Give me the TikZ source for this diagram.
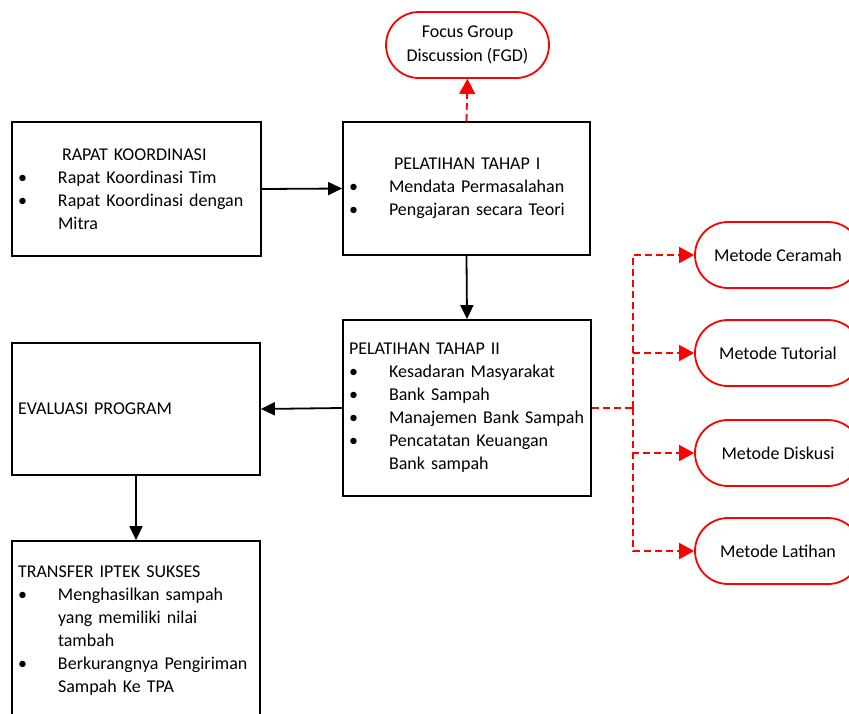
\documentclass[tikz,border=0pt]{standalone}
\usepackage{fontspec}
\setmainfont{Carlito}
\usetikzlibrary{arrows.meta, positioning, calc}

\definecolor{merah}{RGB}{255,0,0}
\newcommand{\butir}{\makebox[40pt][l]{\textbullet}}
\newcommand{\lanjut}{\hspace*{40pt}}

\begin{document}
\begin{tikzpicture}[
    x=1pt, y=-1pt,
    kotak/.style={draw, rectangle, line width=1.8pt, align=left, inner xsep=6pt, inner ysep=0pt, font=\fontsize{18}{23}\selectfont},
    metode/.style={draw=merah, rectangle, line width=1.8pt, rounded corners=33pt, minimum width=166pt, minimum height=66pt, align=center, font=\fontsize{18}{24}\selectfont},
    panah/.style={-{Triangle[length=14pt, width=13pt]}, line width=1.8pt},
    garismerah/.style={color=merah, line width=1.8pt, dash pattern=on 7pt off 4pt},
    panahmerah/.style={garismerah, -{Triangle[length=15pt, width=16pt]}}
]
\useasboundingbox (0,0) rectangle (849,713);

% --- Kotak kegiatan ---
\node[kotak, minimum width=249pt, minimum height=134pt, text width=237pt] (rapat) at (136.5,189) {%
    \hspace*{44pt}RAPAT KOORDINASI\\
    \butir Rapat Koordinasi Tim\\
    \butir Rapat Koordinasi dengan\\
    \lanjut Mitra};
\node[kotak, minimum width=247pt, minimum height=133pt, text width=235pt] (tahap1) at (466.5,188.5) {%
    \hspace*{45pt}PELATIHAN TAHAP I\\
    \butir Mendata Permasalahan\\
    \butir Pengajaran secara Teori};
\node[kotak, minimum width=248pt, minimum height=176pt, text width=236pt] (tahap2) at (467,408) {%
    PELATIHAN TAHAP II\\
    \butir Kesadaran Masyarakat\\
    \butir Bank Sampah\\
    \butir Manajemen Bank Sampah\\
    \butir Pencatatan Keuangan\\
    \lanjut Bank sampah};
\node[kotak, minimum width=248pt, minimum height=132pt, text width=236pt] (evaluasi) at (136,409) {EVALUASI PROGRAM};
\node[kotak, minimum width=248pt, minimum height=179pt, text width=236pt] (transfer) at (136,630.5) {%
    TRANSFER IPTEK SUKSES\\
    \butir Menghasilkan sampah\\
    \lanjut yang memiliki nilai\\
    \lanjut tambah\\
    \butir Berkurangnya Pengiriman\\
    \lanjut Sampah Ke TPA};

% --- Kotak metode (merah) ---
\node[metode, minimum width=163pt] (fgd) at (467.5,45) {Focus Group\\Discussion (FGD)};
\node[metode] (ceramah)  at (778,255) {Metode Ceramah};
\node[metode] (tutorial) at (778,353) {Metode Tutorial};
\node[metode] (diskusi)  at (778,453) {Metode Diskusi};
\node[metode] (latihan)  at (778,551) {Metode Latihan};

% --- Alur merah ---
\coordinate (cabang) at (633,408);
\draw[panahmerah] (cabang) |- (latihan.west);
\draw[panahmerah] (cabang) |- (diskusi.west);
\draw[panahmerah] (cabang) |- (tutorial.west);
\draw[panahmerah] (cabang) |- (ceramah.west);
\draw[garismerah] (tahap2.east) -- (cabang);
\draw[panahmerah] (tahap1.north) -- (fgd.south);

% --- Alur utama ---
\draw[panah] (rapat.east) -- (tahap1.west);
\draw[panah] (tahap1.south) -- (tahap2.north);
\draw[panah] (tahap2.west) -- (evaluasi.east);
\draw[panah] (evaluasi.south) -- (transfer.north);

\end{tikzpicture}
\end{document}
